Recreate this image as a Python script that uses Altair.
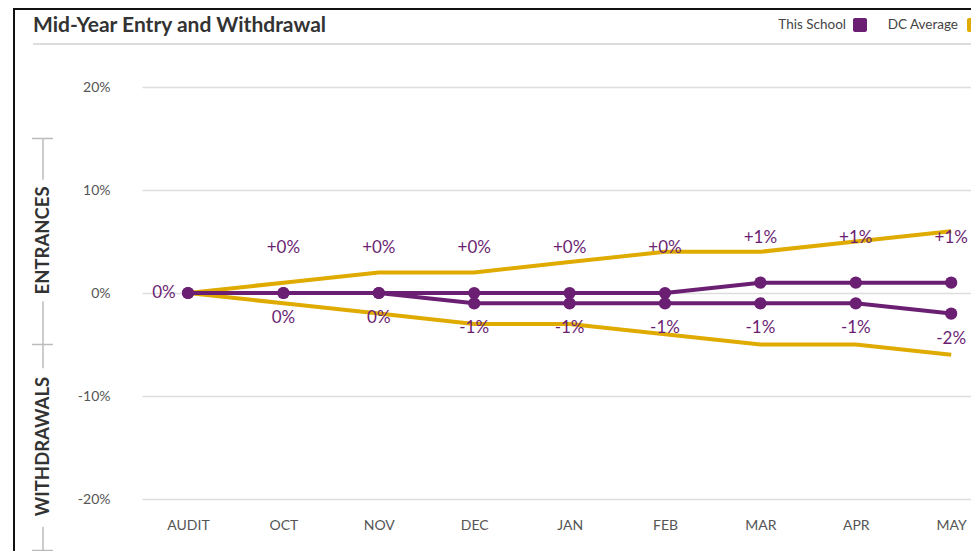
import altair as alt
import pandas as pd

months = ["AUDIT", "OCT", "NOV", "DEC", "JAN", "FEB", "MAR", "APR", "MAY"]
school_ent = [0, 0, 0, 0, 0, 0, 1, 1, 1]
school_wd = [0, 0, 0, -1, -1, -1, -1, -1, -2]
dc_ent = [0, 1, 2, 2, 3, 4, 4, 5, 6]
dc_wd = [0, -1, -2, -3, -3, -4, -5, -5, -6]
ent_labels = ["", "+0%", "+0%", "+0%", "+0%", "+0%", "+1%", "+1%", "+1%"]
wd_labels = ["", "0%", "0%", "-1%", "-1%", "-1%", "-1%", "-1%", "-2%"]
audit_label = "0%"

PURPLE = "#6B1F73"
GOLD = "#E0AB00"
FONT = "Lato"

rows = []
for i, m in enumerate(months):
    rows.append({"month": m, "series": "This School", "kind": "ent", "value": school_ent[i], "label": ent_labels[i]})
    rows.append({"month": m, "series": "This School", "kind": "wd", "value": school_wd[i], "label": wd_labels[i]})
    rows.append({"month": m, "series": "DC Average", "kind": "ent", "value": dc_ent[i], "label": ""})
    rows.append({"month": m, "series": "DC Average", "kind": "wd", "value": dc_wd[i], "label": ""})
df = pd.DataFrame(rows)
df["line"] = df["series"] + "-" + df["kind"]

xs = alt.X("month:N", sort=months,
           scale=alt.Scale(type="point", domain=months, padding=0.345, align=0.699),
           axis=alt.Axis(title=None, labelAngle=0, domain=False, ticks=False, grid=False,
                         labelFontSize=14, labelColor="#555", labelFont=FONT, labelPadding=19))
ys = alt.Y("value:Q", scale=alt.Scale(domain=[-20, 20], nice=False, zero=False),
           axis=alt.Axis(title=None, values=[-20, -10, 0, 10, 20], labelExpr="datum.value + '%'",
                         domain=False, ticks=False, grid=True, gridColor="#dddddd", gridWidth=1.5,
                         labelFontSize=14, labelColor="#555", labelFont=FONT, labelPadding=32))

base = alt.Chart(df)
color = alt.Color("series:N", scale=alt.Scale(domain=["This School", "DC Average"], range=[PURPLE, GOLD]), legend=None)

dc_lines = base.transform_filter("datum.series == 'DC Average'").mark_line(strokeWidth=4).encode(
    x=xs, y=ys, color=color, detail="line:N")
sc_lines = base.transform_filter("datum.series == 'This School'").mark_line(strokeWidth=4).encode(
    x=xs, y=ys, color=color, detail="line:N")
sc_points = base.transform_filter("datum.series == 'This School'").mark_point(
    filled=True, size=150, opacity=1).encode(x=xs, y=ys, color=color)

ent_text = base.transform_filter("datum.series == 'This School' && datum.kind == 'ent' && datum.label != ''").mark_text(
    dy=-45, fontSize=17, font=FONT, color=PURPLE, baseline="middle").encode(x=xs, y=ys, text="label:N")
wd_text = base.transform_filter("datum.series == 'This School' && datum.kind == 'wd' && datum.label != ''").mark_text(
    dy=25, fontSize=17, font=FONT, color=PURPLE, baseline="middle").encode(x=xs, y=ys, text="label:N")
audit_df = pd.DataFrame({"month": [months[0]], "value": [school_ent[0]], "label": [audit_label]})
audit_text = alt.Chart(audit_df).mark_text(dx=-24, fontSize=17, font=FONT, color=PURPLE, baseline="middle").encode(
    x=xs, y=ys, text="label:N")

one = pd.DataFrame({"a": [0]})
deco = alt.Chart(one)

# frame and header
frame_left = deco.mark_rule(color="#111", strokeWidth=2).encode(x=alt.value(-128), y=alt.value(-79), y2=alt.value(480))
frame_top = deco.mark_rule(color="#111", strokeWidth=2).encode(x=alt.value(-128), x2=alt.value(840), y=alt.value(-78))
header_line = deco.mark_rule(color="#dddddd", strokeWidth=2).encode(x=alt.value(-109), x2=alt.value(840), y=alt.value(-43))
title = deco.mark_text(text="Mid-Year Entry and Withdrawal", align="left", baseline="alphabetic", fontSize=21,
                       fontWeight="bold", font=FONT, color="#333").encode(x=alt.value(-109), y=alt.value(-55))
leg1_t = deco.mark_text(text="This School", align="right", baseline="middle", fontSize=13.5, font=FONT,
                        color="#444").encode(x=alt.value(704), y=alt.value(-62))
leg1_s = deco.mark_rect(color=PURPLE, cornerRadius=2).encode(x=alt.value(711), x2=alt.value(725), y=alt.value(-69), y2=alt.value(-55))
leg2_t = deco.mark_text(text="DC Average", align="right", baseline="middle", fontSize=13.5, font=FONT,
                        color="#444").encode(x=alt.value(816), y=alt.value(-62))
leg2_s = deco.mark_rect(color=GOLD, cornerRadius=2).encode(x=alt.value(825), x2=alt.value(839), y=alt.value(-69), y2=alt.value(-55))

# bracket
BR = "#bbbbbb"
br1 = deco.mark_rule(color=BR, strokeWidth=1.5).encode(x=alt.value(-99), y=alt.datum(15), y2=alt.datum(11))
br2 = deco.mark_rule(color=BR, strokeWidth=1.5).encode(x=alt.value(-99), y=alt.datum(-0.8), y2=alt.datum(-7.3))
br3 = deco.mark_rule(color=BR, strokeWidth=1.5).encode(x=alt.value(-99), y=alt.datum(-22.7), y2=alt.datum(-25))
tk1 = deco.mark_rule(color=BR, strokeWidth=1.5).encode(x=alt.value(-110), x2=alt.value(-89), y=alt.datum(15))
tk2 = deco.mark_rule(color=BR, strokeWidth=1.5).encode(x=alt.value(-110), x2=alt.value(-89), y=alt.datum(-5))
tk3 = deco.mark_rule(color=BR, strokeWidth=1.5).encode(x=alt.value(-110), x2=alt.value(-89), y=alt.datum(-25))
ent_lab = deco.mark_text(text="ENTRANCES", angle=270, align="center", baseline="middle", fontSize=18.5,
                         fontWeight="bold", font=FONT, color="#333").encode(x=alt.value(-99), y=alt.datum(5.1))
wd_lab = deco.mark_text(text="WITHDRAWALS", angle=270, align="center", baseline="middle", fontSize=18.5,
                        fontWeight="bold", font=FONT, color="#333").encode(x=alt.value(-99), y=alt.datum(-14.9))

chart = alt.layer(
    frame_left, frame_top, header_line, title, leg1_t, leg1_s, leg2_t, leg2_s,
    br1, br2, br3, tk1, tk2, tk3, ent_lab, wd_lab,
    dc_lines, sc_lines, sc_points, ent_text, wd_text, audit_text,
).properties(
    width=829, height=412,
    autosize=alt.AutoSizeParams(type="none"),
    padding={"left": 134, "top": 79, "right": 0, "bottom": 52},
).configure(background="white").configure_view(stroke=None)

chart.save("out.html", embed_options={"renderer": "svg", "actions": False})
